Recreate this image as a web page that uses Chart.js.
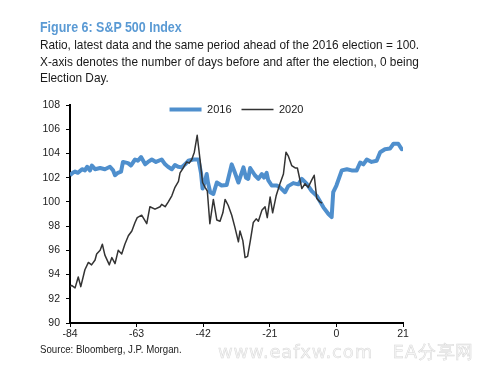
<!DOCTYPE html>
<html>
<head>
<meta charset="utf-8">
<script src="https://cdn.jsdelivr.net/npm/chart.js@4"></script>
<style>
  html, body { margin: 0; padding: 0; background: #fff; }
  .wrap { position: relative; width: 481px; height: 369px; overflow: hidden; }
  .wrap canvas { position: absolute; left: 0; top: 0; }
  .txt { position: absolute; left: 40px; white-space: nowrap; font-family: "Liberation Sans", Arial, sans-serif; color: #1a1a1a; transform-origin: 0 0; }
  .title { top: 19px; font-size: 14px; font-weight: bold; color: #5a9ad4; transform: scaleX(0.89); }
  .sub { top: 37px; font-size: 13px; line-height: 16.5px; transform: scaleX(0.91); }
  .source { top: 343px; font-size: 10.5px; transform: scaleX(0.92); }
  .mark { position: absolute; left: 218px; top: 340px; font-family: "DejaVu Sans", sans-serif; font-size: 18px; letter-spacing: 0.8px; color: #f6f6f6; -webkit-text-stroke: 0.5px #d8d8d8; white-space: nowrap; }
</style>
</head>
<body>
<div class="wrap">
  <canvas id="chart" width="481" height="369"></canvas>
  <div class="txt title">Figure 6: S&amp;P 500 Index</div>
  <div class="txt sub">Ratio, latest data and the same period ahead of the 2016 election = 100.<br>X-axis denotes the number of days before and after the election, 0 being<br>Election Day.</div>
  <div class="txt source">Source: Bloomberg, J.P. Morgan.</div>
  <div class="mark">www.eafxw.com&nbsp;&nbsp;&nbsp;EA分享网</div>
</div>
<script>
// days relative to election day, and index ratio (2016 = 100)
const days2016 = [-84, -83.1, -82.4, -81.5, -80.2, -79.3, -78.6, -77.7, -77.1, -76.1,
  -74.5, -73, -71.4, -70.4, -69.8, -68.9, -67.9, -67.3, -65.7, -64.8,
  -63.5, -62.6, -61.6, -60.3, -59.4, -58.2, -56.9, -55.1, -54, -53.1,
  -51.9, -50.9, -49.9, -48.8, -47.7, -46.7, -45.1, -43.5, -42.7, -42.2,
  -41.4, -40.9, -40.5, -39.8, -38.8, -37.7, -36.2, -34.6, -33, -32,
  -30.9, -29.3, -28.5, -27.8, -27.2, -25.7, -24.6, -23.5, -22.8, -22,
  -21.5, -20.4, -18.8, -17.8, -16.2, -15.2, -13.6, -12, -10.9, -9.4,
  -7.8, -6.2, -4.1, -2.5, -1.5, -1, 0, 1.7, 3.3, 4.8,
  6.4, 7.5, 8.5, 9.6, 11.1, 12.7, 13.8, 15.3, 16.9, 18,
  19.5, 20.6, 21];
const values2016 = [102.2, 102.4, 102.5, 102.4, 102.7, 102.6, 102.9, 102.6, 103.0, 102.7,
  102.8, 102.7, 102.9, 102.6, 102.2, 102.4, 102.5, 103.3, 103.2, 103.0,
  103.5, 103.4, 103.7, 103.1, 103.3, 103.5, 103.3, 103.5, 103.1, 102.9,
  102.7, 103.05, 102.9, 102.85, 103.1, 103.4, 103.5, 103.5, 102.4, 101.1,
  101.75, 102.3, 101.6, 100.8, 100.65, 101.6, 101.35, 101.4, 103.1, 102.4,
  101.6, 102.85, 102.0, 101.9, 102.8, 102.2, 101.9, 102.3, 102.0, 102.4,
  101.8, 101.35, 101.35, 101.2, 100.8, 101.3, 101.55, 101.45, 101.9, 101.5,
  100.9, 100.5, 99.55, 99.0, 98.75, 100.8, 101.35, 102.6, 102.7, 102.6,
  102.6, 103.25, 103.1, 103.5, 103.3, 103.4, 104.1, 104.35, 104.4, 104.8,
  104.8, 104.35, 104.5];

const days2020 = [-84, -83.5, -82.4, -81.4, -80.6, -79.3, -78.2, -77.2, -76.1, -75.6,
  -74.5, -73.8, -73, -71.6, -70.8, -69.8, -68.8, -67.7, -66.7, -65.6,
  -64.5, -63.5, -62.8, -61.4, -59.8, -58.8, -57.2, -55.6, -55.1, -54,
  -53, -51.9, -50.9, -49.8, -49.3, -48.3, -47.2, -46.4, -45.6, -44.8,
  -43.9, -43, -42.2, -41.4, -40.7, -39.9, -38.8, -37.7, -36.7, -35.8,
  -35.1, -34.1, -33, -32, -30.9, -30.4, -29.5, -28.8, -28, -27.2,
  -26.2, -25.3, -24.6, -23.5, -22.5, -21.8, -20.9, -20.1, -19, -17.8,
  -16.7, -15.9, -15.2, -14.1, -13, -12.3, -10.9, -9.9, -8.9, -7.8,
  -7, -6.2, -5.2, -4.5];
const values2020 = [93.0, 93.1, 92.9, 93.8, 93.0, 94.4, 95.0, 94.8, 95.2, 95.7,
  96.0, 96.5, 95.6, 94.8, 95.4, 94.9, 96.0, 95.7, 96.5, 97.2,
  97.6, 98.3, 98.7, 98.9, 98.2, 99.6, 99.4, 99.6, 99.8, 99.6,
  100.0, 100.5, 101.2, 101.7, 102.4, 102.8, 103.3, 103.2, 103.5, 104.1,
  105.5, 103.5, 101.6, 101.2, 100.9, 98.2, 100.2, 98.5, 98.4, 99.1,
  100.2, 99.7, 98.9, 97.9, 96.7, 97.6, 96.8, 95.4, 95.5, 96.7,
  98.3, 98.6, 98.4, 99.3, 99.6, 98.7, 100.4, 99.1, 100.5, 101.5,
  102.3, 104.1, 103.8, 103.0, 102.8, 102.8, 101.1, 101.5, 101.2, 101.8,
  102.2, 100.3, 100.0, 99.9];

const xTicks = [-84, -63, -42, -21, 0, 21];
const yMin = 90, yMax = 108, yStep = 2;

const fontFamily = '"Liberation Sans", Arial, sans-serif';

function toPoints(xs, ys) {
    return xs.map((x, i) => ({ x: x, y: ys[i] }));
}

// legend sits just inside the top of the plot, like the original
const legendShift = {
    id: 'legendShift',
    afterLayout(chart) {
        const legend = chart.legend;
        if (legend) {
            const h = legend.bottom - legend.top;
            legend.top = 94;
            legend.bottom = 94 + h;
        }
    }
};

new Chart(document.getElementById('chart'), {
    type: 'line',
    data: {
        datasets: [
            {
                label: '2016',
                data: toPoints(days2016, values2016),
                borderColor: '#4f8fcd',
                backgroundColor: '#4f8fcd',
                borderWidth: 4,
                order: 2
            },
            {
                label: '2020',
                data: toPoints(days2020, values2020),
                borderColor: '#333333',
                backgroundColor: '#333333',
                borderWidth: 1.5,
                order: 1
            }
        ]
    },
    options: {
        responsive: false,
        animation: false,
        events: [],
        layout: { padding: { left: 0, right: 78, top: 74, bottom: 26 } },
        elements: {
            point: { radius: 0 },
            line: { tension: 0, borderJoinStyle: 'round' }
        },
        plugins: {
            tooltip: { enabled: false },
            legend: {
                position: 'top',
                align: 'center',
                fullSize: false,
                labels: {
                    usePointStyle: true,
                    pointStyle: 'line',
                    pointStyleWidth: 32,
                    padding: 10,
                    color: '#1a1a1a',
                    font: { family: fontFamily, size: 11 },
                    sort: (a, b) => a.datasetIndex - b.datasetIndex
                }
            }
        },
        scales: {
            x: {
                type: 'linear',
                min: xTicks[0],
                max: xTicks[xTicks.length - 1],
                afterBuildTicks: axis => { axis.ticks = xTicks.map(v => ({ value: v })); },
                afterFit: axis => { axis.height = 20; },
                grid: { display: true, drawOnChartArea: false, drawTicks: true, tickLength: 4, color: '#000' },
                border: { display: true, color: '#000', width: 2 },
                ticks: { color: '#222', padding: 1, maxRotation: 0, font: { family: fontFamily, size: 10.5 } }
            },
            y: {
                min: yMin,
                max: yMax,
                afterFit: axis => { axis.width = 70; },
                grid: { display: true, drawOnChartArea: false, drawTicks: true, tickLength: 4, color: '#000' },
                border: { display: true, color: '#000', width: 2 },
                ticks: { stepSize: yStep, color: '#222', padding: 6, font: { family: fontFamily, size: 10.5 } }
            }
        }
    },
    plugins: [legendShift]
});
</script>
</body>
</html>
